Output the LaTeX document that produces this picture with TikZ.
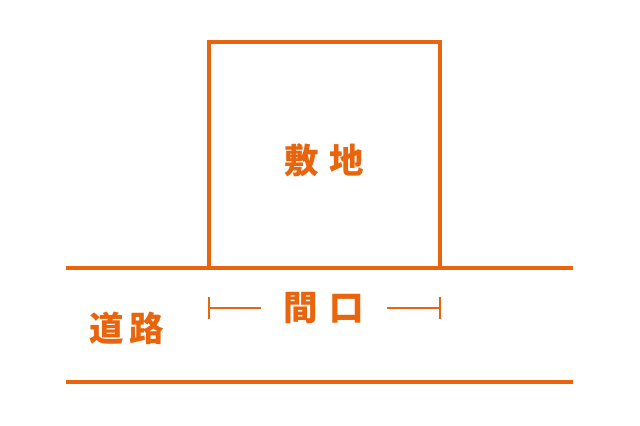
\documentclass[tikz,border=0pt]{standalone}
\usepackage{fontspec}
\newfontfamily\jpfont{Noto Sans CJK JP}
\usetikzlibrary{positioning}
\definecolor{siteorange}{RGB}{232,101,14}
\tikzset{
  thickline/.style={draw=siteorange, line width=2.5pt},
  dimline/.style={draw=siteorange, line width=0.9pt},
  jplabel/.style={text=siteorange, font=\jpfont\bfseries\fontsize{24.5}{24.5}\selectfont, inner sep=0pt},
}

\begin{document}
\begin{tikzpicture}[x=0.025cm, y=-0.025cm]
      \useasboundingbox (0,0) rectangle (640,426);
      % site
      \draw[thickline] (209,268) -- (209,42) -- (440,42) -- (440,268);
      \node[jplabel] (shikichi) at (324,160) {敷\hspace{0.32em}地};
      % road
      \draw[thickline] (66,268) -- (573,268);
      \draw[thickline] (66,382) -- (573,382);
      \node[jplabel] (douro) at (127,328) {道\hspace{0.15em}路};
      % frontage
      \node[jplabel, inner xsep=0.55cm] (maguchi) at (324,308) {間\hspace{0.34em}口};
      \coordinate (dimL) at (209,308);
      \coordinate (dimR) at (440,308);
      \draw[dimline] (dimL) -- (maguchi.west);
      \draw[dimline] (maguchi.east) -- (dimR);
      \draw[dimline] (209,297) -- (209,319);
      \draw[dimline] (440,297) -- (440,319);
\end{tikzpicture}
\end{document}
